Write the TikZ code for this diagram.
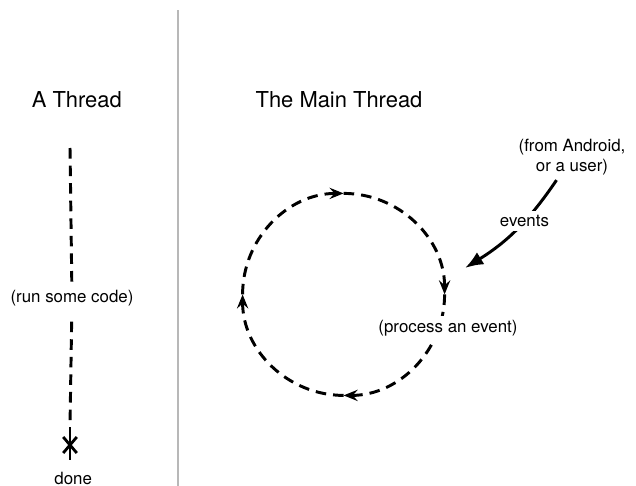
\documentclass[tikz,border=0pt]{standalone}
\usepackage{fontspec}
\setmainfont{TeX Gyre Heros}
\usetikzlibrary{arrows.meta, shapes.misc}

\begin{document}
\begin{tikzpicture}[
    every node/.style={font=\fontsize{12}{14.2}\selectfont},
    % Column heading
    heading/.style={font=\fontsize{15.6}{18}\selectfont},
    % Small caption sitting on a line, hides the line behind it
    caption/.style={fill=white, inner sep=3pt},
    % Dashed flow of control
    flow/.style={line width=2.1pt, dash pattern=on 7.5pt off 5pt},
    ring/.style={flow, -{Stealth[length=10pt, width=8pt, inset=3.5pt]}},
    % Incoming events
    feed/.style={line width=2.1pt, -{Latex[length=13pt, width=10pt]}},
    % End of a thread
    stop/.style={draw, cross out, line width=2pt, inner sep=0pt,
        minimum width=0.27cm, minimum height=0.33cm},
    divider/.style={draw=black!28, line width=2pt},
]

\useasboundingbox (0,0) rectangle (15.9,-12.15);

% ====================================================
% LEFT: a plain thread
% ====================================================
\node[heading] (T-title) at (1.92, -2.5) {A Thread};

\coordinate (T-start) at (1.75, -3.7);
\node[caption] (T-run) at (1.8, -7.45) {(run some code)};
\coordinate (T-solid) at (1.75, -10.675);
\node[stop] (T-stop) at (1.75, -11.125) {};
\coordinate (T-end) at (1.75, -11.5);
\node[anchor=base] (T-done) at (1.83, -12.1) {done};

\draw[flow] (T-start) -- (T-run);
\draw[flow, shorten <=8pt] (T-run) -- (T-solid);
\draw[line width=2.1pt] (T-solid) -- (T-end);

% Separator
\draw[divider] (4.45, -0.25) -- (4.45, -12.15);

% ====================================================
% RIGHT: the main thread's event loop
% ====================================================
\node[heading] (M-title) at (8.475, -2.5) {The Main Thread};

\coordinate (M-hub) at (8.59, -7.36);

% Loop, clockwise, one arrow per quarter
\foreach \a in {180, 90, 0, -90}
    \draw[ring] ([shift={(\a:2.525)}]M-hub)
        arc[start angle=\a, end angle=\a-90, radius=2.525];

\node[caption] (M-proc) at (11.2, -8.2) {(process an event)};

% Where the events come from
\node[align=center] (M-src) at (14.3, -3.93) {(from Android,\\or a user)};
\coordinate (M-in) at (11.625, -6.7);

\draw[feed] (M-src.236) to[bend left=12]
    node[caption, pos=0.4] {events} (M-in);

\end{tikzpicture}
\end{document}
